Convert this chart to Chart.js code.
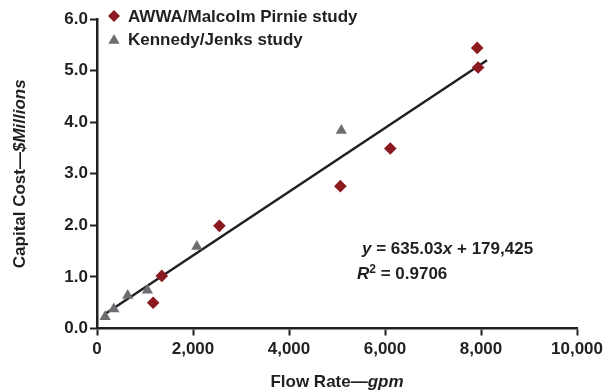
<!DOCTYPE html>
<html>
<head>
<meta charset="utf-8">
<script src="https://cdn.jsdelivr.net/npm/chart.js@4.4.1/dist/chart.umd.min.js"></script>
<style>
  html, body { margin: 0; padding: 0; background: #fff; }
  #wrap { width: 613px; height: 392px; }
</style>
</head>
<body>
<div id="wrap"><canvas id="grafico"></canvas></div>
<script>
// datos (gpm, millones de $)
const awwaX = [1170, 1350, 2550, 5070, 6110, 7940, 7920];
const awwaY = [0.50, 1.02, 1.99, 2.76, 3.49, 5.06, 5.44];
const kjX = [170, 350, 640, 1050, 2080, 5090];
const kjY = [0.23, 0.38, 0.64, 0.74, 1.59, 3.84];
const ajusteX = [150, 8125];
const ajusteY = [0.27, 5.20];
const xTicks = [0, 2000, 4000, 6000, 8000, 10000];
const yTicks = [0, 1, 2, 3, 4, 5, 6];

const ROJO = "#8c1820";
const GRIS = "#6d6e71";
const NEGRO = "#231f20";
const FUENTE = "'Liberation Sans', Arial, sans-serif";

function puntos(xs, ys) {
  return xs.map((x, i) => ({ x: x, y: ys[i] }));
}

// escribe trozos de texto con estilos distintos en una linea
function textoMixto(ctx, trozos, x, y) {
  let cx = x;
  trozos.forEach((t) => {
    ctx.font = t.font;
    const dy = t.dy || 0;
    ctx.fillText(t.txt, cx, y + dy);
    cx += ctx.measureText(t.txt).width;
  });
}

const extras = {
  id: "extras",
  afterDraw(chart) {
    const ctx = chart.ctx;
    const area = chart.chartArea;
    const b = "bold 17px " + FUENTE;
    const bi = "italic bold 17px " + FUENTE;
    ctx.save();
    ctx.textBaseline = "middle";
    ctx.textAlign = "left";

    // leyenda
    ctx.fillStyle = ROJO;
    Chart.helpers.drawPoint(ctx, { pointStyle: "rectRot", radius: 6, borderWidth: 0 }, 114, 16);
    ctx.fillStyle = GRIS;
    Chart.helpers.drawPoint(ctx, { pointStyle: "triangle", radius: 6.5, borderWidth: 0 }, 114, 40.5);
    ctx.fillStyle = NEGRO;
    ctx.font = b;
    ctx.fillText("AWWA/Malcolm Pirnie study", 128, 17);
    ctx.fillText("Kennedy/Jenks study", 128, 40);

    // ecuacion
    textoMixto(ctx, [
      { txt: "y", font: bi },
      { txt: " = 635.03", font: b },
      { txt: "x", font: bi },
      { txt: " + 179,425", font: b },
    ], 362, 249);
    textoMixto(ctx, [
      { txt: "R", font: bi },
      { txt: "2", font: "bold 12px " + FUENTE, dy: -4 },
      { txt: " = 0.9706", font: b },
    ], 357, 274);

    // titulo eje x
    const t1 = "Flow Rate\u2014";
    const t2 = "gpm";
    ctx.font = b;
    const w1 = ctx.measureText(t1).width;
    ctx.font = bi;
    const w2 = ctx.measureText(t2).width;
    const cx = (area.left + area.right) / 2;
    textoMixto(ctx, [{ txt: t1, font: b }, { txt: t2, font: bi }], cx - (w1 + w2) / 2, 382);

    // titulo eje y
    const s1 = "Capital Cost\u2014";
    const s2 = "$Millions";
    ctx.font = b;
    const v1 = ctx.measureText(s1).width;
    ctx.font = bi;
    const v2 = ctx.measureText(s2).width;
    ctx.translate(20, (area.top + area.bottom) / 2);
    ctx.rotate(-Math.PI / 2);
    textoMixto(ctx, [{ txt: s1, font: b }, { txt: s2, font: bi }], -(v1 + v2) / 2, 0);
    ctx.restore();
  },
};

const ejeComun = {
  border: { display: true, color: NEGRO, width: 2.5 },
  grid: {
    display: true,
    drawOnChartArea: false,
    drawTicks: true,
    tickLength: 7,
    tickWidth: 2,
    tickColor: NEGRO,
  },
};

new Chart(document.getElementById("grafico"), {
  type: "scatter",
  data: {
    datasets: [
      {
        label: "AWWA/Malcolm Pirnie study",
        data: puntos(awwaX, awwaY),
        pointStyle: "rectRot",
        pointRadius: 6.3,
        backgroundColor: ROJO,
        borderWidth: 0,
        order: 1,
      },
      {
        label: "Kennedy/Jenks study",
        data: puntos(kjX, kjY),
        pointStyle: "triangle",
        pointRadius: 6.5,
        backgroundColor: GRIS,
        borderWidth: 0,
        order: 2,
      },
      {
        type: "line",
        label: "ajuste",
        data: puntos(ajusteX, ajusteY),
        borderColor: NEGRO,
        borderWidth: 2.5,
        pointRadius: 0,
        fill: false,
        order: 3,
      },
    ],
  },
  options: {
    responsive: true,
    maintainAspectRatio: false,
    animation: false,
    layout: { padding: { left: 0, right: 36, top: 19, bottom: 0 } },
    plugins: {
      legend: { display: false },
      tooltip: { enabled: false },
    },
    scales: {
      x: {
        ...ejeComun,
        type: "linear",
        min: 0,
        max: 10000,
        afterBuildTicks: (s) => { s.ticks = xTicks.map((v) => ({ value: v })); },
        afterFit: (s) => { s.height = 63.5; },
        ticks: {
          color: NEGRO,
          padding: 4,
          font: { family: FUENTE, size: 17, weight: "bold" },
          callback: (v) => v.toLocaleString("en-US"),
        },
      },
      y: {
        ...ejeComun,
        type: "linear",
        min: 0,
        max: 6,
        afterBuildTicks: (s) => { s.ticks = yTicks.map((v) => ({ value: v })); },
        afterFit: (s) => { s.width = 97; },
        ticks: {
          color: NEGRO,
          padding: 2,
          font: { family: FUENTE, size: 17, weight: "bold" },
          callback: (v) => v.toFixed(1),
        },
      },
    },
  },
  plugins: [extras],
});
</script>
</body>
</html>
